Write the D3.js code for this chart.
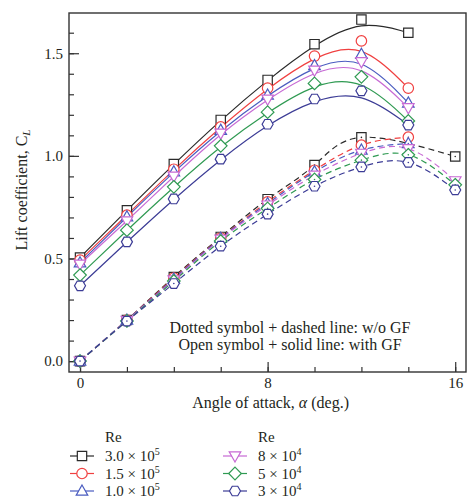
<!DOCTYPE html>
<html>
<head>
<meta charset="utf-8">
<script src="https://cdn.jsdelivr.net/npm/d3@7"></script>
<style type="text/css">
    body { margin: 0; background: #fff; }
    text { font-family: "Liberation Serif", "DejaVu Serif", serif; fill: #231f20; }
    .axis text { font-size: 15px; }
    .axis line { stroke: #333; stroke-width: 1.2; }
    .frame { fill: none; stroke: #333; stroke-width: 1.4; }
    .curve { fill: none; stroke-width: 1.2; }
    .mark { fill: #fff; stroke-width: 1.2; }
    .title { font-size: 16px; text-anchor: middle; }
    .note { font-size: 16px; text-anchor: middle; }
    .legend text { font-size: 15px; }
</style>
</head>
<body>
<div id="chart"></div>
<script>
// angle of attack, deg.
var alphaGF = [0, 2, 4, 6, 8, 10, 12, 14];
var alphaNoGF = [0, 2, 4, 6, 8, 10, 12, 14, 16];

// Reynolds numbers (legend)
var reBase = ["3.0 × 10", "1.5 × 10", "1.0 × 10", "8 × 10", "5 × 10", "3 × 10"];
var reExp = ["5", "5", "5", "4", "4", "4"];
var reColors = ["#2a2a2a", "#f04040", "#4a5cc0", "#c76ad4", "#2f9a52", "#3c3c96"];
var reSymbols = ["square", "circle", "triangle", "triangleDown", "diamond", "hexagon"];

// CL with GF (open symbol + solid line)
var gf3e5 = [0.505, 0.735, 0.96, 1.175, 1.37, 1.544, 1.664, 1.60];
var gf15e4 = [0.492, 0.711, 0.935, 1.141, 1.33, 1.486, 1.56, 1.33];
var gf1e5 = [0.479, 0.703, 0.922, 1.125, 1.296, 1.44, 1.495, 1.258];
var gf8e4 = [0.472, 0.683, 0.901, 1.11, 1.276, 1.417, 1.458, 1.234];
var gf5e4 = [0.419, 0.638, 0.849, 1.049, 1.213, 1.353, 1.385, 1.17];
var gf3e4 = [0.367, 0.581, 0.79, 0.984, 1.154, 1.277, 1.317, 1.15];

// CL without GF (dotted symbol + dashed line)
var no3e5 = [0, 0.2, 0.41, 0.605, 0.789, 0.955, 1.09, null, 0.997];
var no15e4 = [0, 0.2, 0.405, 0.6, 0.776, 0.93, 1.052, 1.091, null];
var no1e5 = [0, 0.2, 0.4, 0.598, 0.768, 0.922, 1.028, 1.06, null];
var no8e4 = [0, 0.198, 0.395, 0.594, 0.76, 0.906, 1.012, 1.035, 0.878];
var no5e4 = [0, 0.196, 0.39, 0.585, 0.744, 0.885, 0.979, 1.005, 0.859];
var no3e4 = [0, 0.195, 0.378, 0.56, 0.716, 0.852, 0.946, 0.968, 0.834];

var yMajor = [0, 0.5, 1.0, 1.5];
var xMajor = [0, 8, 16];

var gfSeries = [gf3e5, gf15e4, gf1e5, gf8e4, gf5e4, gf3e4];
var noSeries = [no3e5, no15e4, no1e5, no8e4, no5e4, no3e4];

var W = 469, H = 500;
var svg = d3.select("#chart").append("svg")
    .attr("width", W)
    .attr("height", H);

var x = d3.scaleLinear().domain([-0.47, 16.46]).range([69, 466]);
var y = d3.scaleLinear().domain([-0.053, 1.696]).range([372, 13]);

function pts(xs, ys) {
    return xs.map(function (a, i) { return { a: a, cl: ys[i] }; })
        .filter(function (d) { return d.cl != null; });
}

function shape(type, s) {
    var p;
    if (type === "square") {
        s = s * 0.85;
        return "M" + (-s) + "," + (-s) + "h" + 2 * s + "v" + 2 * s + "h" + (-2 * s) + "Z";
    }
    if (type === "circle") {
        s = s * 0.95;
        return "M" + s + ",0A" + s + "," + s + " 0 1,1 " + (-s) + ",0A" + s + "," + s + " 0 1,1 " + s + ",0Z";
    }
    if (type === "triangle") p = [[0, -s * 1.1], [s * 1.05, s * 0.75], [-s * 1.05, s * 0.75]];
    if (type === "triangleDown") p = [[0, s * 1.1], [s * 1.05, -s * 0.75], [-s * 1.05, -s * 0.75]];
    if (type === "diamond") p = [[0, -s * 1.15], [s * 1.15, 0], [0, s * 1.15], [-s * 1.15, 0]];
    if (type === "hexagon") p = d3.range(6).map(function (k) {
        var t = k * Math.PI / 3;
        return [s * Math.cos(t), s * Math.sin(t)];
    });
    return "M" + p.map(function (q) { return q[0].toFixed(2) + "," + q[1].toFixed(2); }).join("L") + "Z";
}

// frame
svg.append("rect")
    .attr("class", "frame")
    .attr("x", x.range()[0]).attr("y", y.range()[1])
    .attr("width", x.range()[1] - x.range()[0])
    .attr("height", y.range()[0] - y.range()[1]);

// y axis: minor ticks every 0.1, major labelled
var yMinor = d3.range(0, 17).map(function (k) { return k / 10; });
svg.append("g").attr("class", "axis")
    .attr("transform", "translate(" + x.range()[0] + ",0)")
    .call(d3.axisLeft(y).tickValues(yMinor).tickSize(-5).tickFormat(""))
    .call(function (g) { g.select(".domain").remove(); });
svg.append("g").attr("class", "axis")
    .attr("transform", "translate(" + x.range()[0] + ",0)")
    .call(d3.axisLeft(y).tickValues(yMajor).tickSize(-10).tickPadding(6).tickFormat(d3.format(".1f")))
    .call(function (g) { g.select(".domain").remove(); });

// x axis: minor ticks every 2
svg.append("g").attr("class", "axis")
    .attr("transform", "translate(0," + y.range()[0] + ")")
    .call(d3.axisBottom(x).tickValues(d3.range(0, 17, 2)).tickSize(-5).tickFormat(""))
    .call(function (g) { g.select(".domain").remove(); });
svg.append("g").attr("class", "axis")
    .attr("transform", "translate(0," + y.range()[0] + ")")
    .call(d3.axisBottom(x).tickValues(xMajor).tickSize(-10).tickPadding(5).tickFormat(d3.format("d")))
    .call(function (g) { g.select(".domain").remove(); });

// titles
var xt = svg.append("text").attr("class", "title")
    .attr("x", x(8) + 3).attr("y", 408);
xt.append("tspan").text("Angle of attack, ");
xt.append("tspan").style("font-style", "italic").text("α");
xt.append("tspan").text(" (deg.)");

var yt = svg.append("text").attr("class", "title")
    .attr("transform", "translate(27," + 190 + ") rotate(-90)");
yt.append("tspan").text("Lift coefficient, C");
yt.append("tspan").style("font-style", "italic").style("font-size", "11px")
    .attr("dy", 3).text("L");

// curves
var lineGF = d3.line().curve(d3.curveBasis)
    .x(function (d) { return x(d.a); }).y(function (d) { return y(d.cl); });
var lineNo = d3.line().curve(d3.curveNatural)
    .x(function (d) { return x(d.a); }).y(function (d) { return y(d.cl); });

noSeries.forEach(function (s, i) {
    svg.append("path").attr("class", "curve")
        .attr("d", lineNo(pts(alphaNoGF, s)))
        .attr("stroke", reColors[i])
        .attr("stroke-dasharray", "6,4");
});
gfSeries.forEach(function (s, i) {
    svg.append("path").attr("class", "curve")
        .attr("d", lineGF(pts(alphaGF, s)))
        .attr("stroke", reColors[i]);
});

// markers
function drawMarks(data, i, dotted) {
    var g = svg.append("g");
    g.selectAll("path")
        .data(data).enter().append("path")
        .attr("class", "mark")
        .attr("d", shape(reSymbols[i], 5.5))
        .attr("stroke", reColors[i])
        .attr("transform", function (d) { return "translate(" + x(d.a) + "," + y(d.cl) + ")"; });
    if (dotted) {
        g.selectAll("circle")
            .data(data).enter().append("circle")
            .attr("r", 0.8)
            .attr("fill", reColors[i])
            .attr("cx", function (d) { return x(d.a); })
            .attr("cy", function (d) { return y(d.cl); });
    }
}
noSeries.forEach(function (s, i) { drawMarks(pts(alphaNoGF, s), i, true); });
gfSeries.forEach(function (s, i) { drawMarks(pts(alphaGF, s), i, false); });

// note
svg.append("text").attr("class", "note").attr("x", 290).attr("y", 333)
    .text("Dotted symbol + dashed line: w/o GF");
svg.append("text").attr("class", "note").attr("x", 290).attr("y", 350)
    .text("Open symbol + solid line: with GF");

// legend
var legend = svg.append("g").attr("class", "legend");
var colX = [105, 258];
colX.forEach(function (cx) {
    legend.append("text").attr("x", cx).attr("y", 442).text("Re");
});
reBase.forEach(function (lbl, i) {
    var cx = colX[Math.floor(i / 3)];
    var cy = 456 + (i % 3) * 17.5;
    legend.append("line")
        .attr("x1", cx - 35).attr("x2", cx - 11)
        .attr("y1", cy).attr("y2", cy)
        .attr("stroke", reColors[i]).attr("stroke-width", 1.2);
    legend.append("path").attr("class", "mark")
        .attr("d", shape(reSymbols[i], 5.5))
        .attr("stroke", reColors[i])
        .attr("transform", "translate(" + (cx - 23) + "," + cy + ")");
    var t = legend.append("text").attr("x", cx).attr("y", cy + 5).text(lbl);
    t.append("tspan").attr("dy", -6).style("font-size", "10px").text(reExp[i]);
});
</script>
</body>
</html>
